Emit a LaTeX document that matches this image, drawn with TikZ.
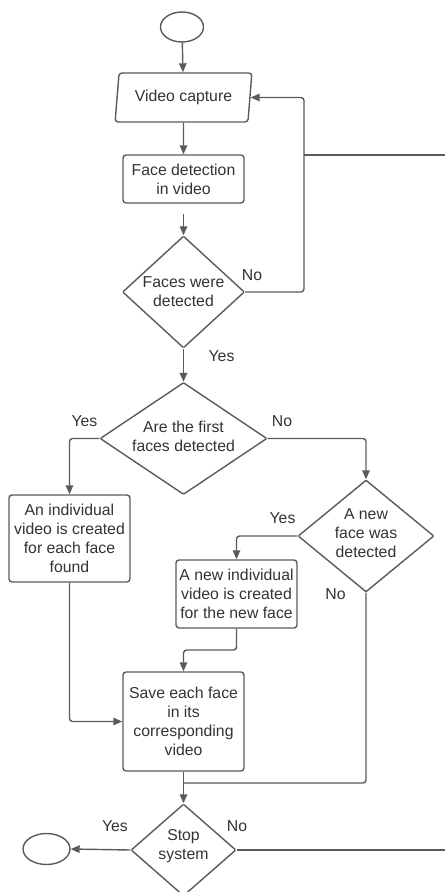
\documentclass[tikz,border=0pt]{standalone}
\usepackage{fontspec}
\setmainfont{Liberation Sans}
\usetikzlibrary{shapes.geometric,arrows.meta}
\definecolor{ln}{HTML}{5A5A5A}
\definecolor{tx}{HTML}{333333}
\begin{document}
\begin{tikzpicture}[x=1pt,y=-1pt,
  every node/.style={text=tx, font=\fontsize{15.8}{19}\selectfont, inner sep=0pt},
  line/.style={draw=ln, line width=1.4pt, rounded corners=3pt},
  arr/.style={line, -{Triangle[length=9pt,width=7.5pt]}},
  box/.style={draw=ln, line width=1.4pt, rounded corners=3pt, align=center},
  term/.style={draw=ln, line width=1.4pt, ellipse},
  dia/.style={draw=ln, line width=1.4pt, diamond, rounded corners=1pt},
  lab/.style={anchor=center}
]
\useasboundingbox (0,0) rectangle (445,892);
\begin{scope}
\clip (0,0) rectangle (445,892);

% nodes
\node[term, minimum width=43pt, minimum height=30pt] (start) at (182,27) {};
\node[draw=ln, line width=1.4pt, trapezium, trapezium left angle=78.5, trapezium right angle=101.5,
      trapezium stretches=true, minimum width=137pt, minimum height=49pt, rounded corners=3pt] (vc) at (183.5,97.5) {Video capture};
\node[box, minimum width=121pt, minimum height=48pt] (fd) at (183.5,179) {Face detection\\in video};
\node[dia, minimum width=122pt, minimum height=112pt,
      label={[align=center]center:Faces were\\detected}] (d1) at (183.5,292) {};
\node[dia, minimum width=167pt, minimum height=112pt,
      label={[align=center, yshift=2pt]center:Are the first\\faces detected}] (d2) at (183.5,438.5) {};
\node[box, minimum width=121pt, minimum height=87pt] (vid1) at (69.5,538.5) {An individual\\video is created\\for each face\\found};
\node[dia, minimum width=136pt, minimum height=112pt,
      label={[align=center, yshift=3pt]center:A new\\face was\\detected}] (d3) at (366,536) {};
\node[box, minimum width=121pt, minimum height=68pt] (vid2) at (236.5,594) {A new individual\\video is created\\for the new face};
\node[box, minimum width=121pt, minimum height=99pt] (save) at (183.5,721.5) {Save each face\\in its\\corresponding\\video};
\node[dia, minimum width=105pt, minimum height=92pt,
      label={[align=center, yshift=4pt]center:Stop\\system}] (d4) at (183.5,850) {};
\node[term, minimum width=47pt, minimum height=31pt] (end) at (46.5,849) {};

% helper coordinates
\coordinate (loopx) at (304,155);
\coordinate (edge1) at (445,155);
\coordinate (j1) at (236.5,650);
\coordinate (j2) at (183.5,783);
\coordinate (edge2) at (445,850);

% connectors
\draw[arr] (start) -- (vc);
\draw[arr] (vc) -- (fd);
\draw[arr, shorten <=10pt] (fd) -- (d1);
\draw[arr] (d1.east) -| (loopx) |- (vc.east);
\draw[line] (loopx) -- (edge1);
\draw[arr] (d1) -- (d2);
\draw[arr] (d2.west) -| (vid1.north);
\draw[arr] (d2.east) -| (d3.north);
\draw[arr] (d3.west) -| (vid2.north);
\draw[arr] (vid1.south) |- (save.west);
\draw[arr] (vid2.south) |- (j1) -| (save.north);
\draw[line] (d3.south) |- (j2);
\draw[arr] (save) -- (d4);
\draw[arr] (d4.west) -- (end.east);
\draw[line] (d4.east) -- (edge2);

% labels
\node[lab] (l1) at (252,275) {No};
\node[lab] (l2) at (221.5,356) {Yes};
\node[lab] (l3) at (84.5,421) {Yes};
\node[lab] (l4) at (282,421) {No};
\node[lab] (l5) at (282.5,518.5) {Yes};
\node[lab] (l6) at (335.5,594.5) {No};
\node[lab] (l7) at (115,826.5) {Yes};
\node[lab] (l8) at (237,826.5) {No};
\end{scope}
\end{tikzpicture}
\end{document}
